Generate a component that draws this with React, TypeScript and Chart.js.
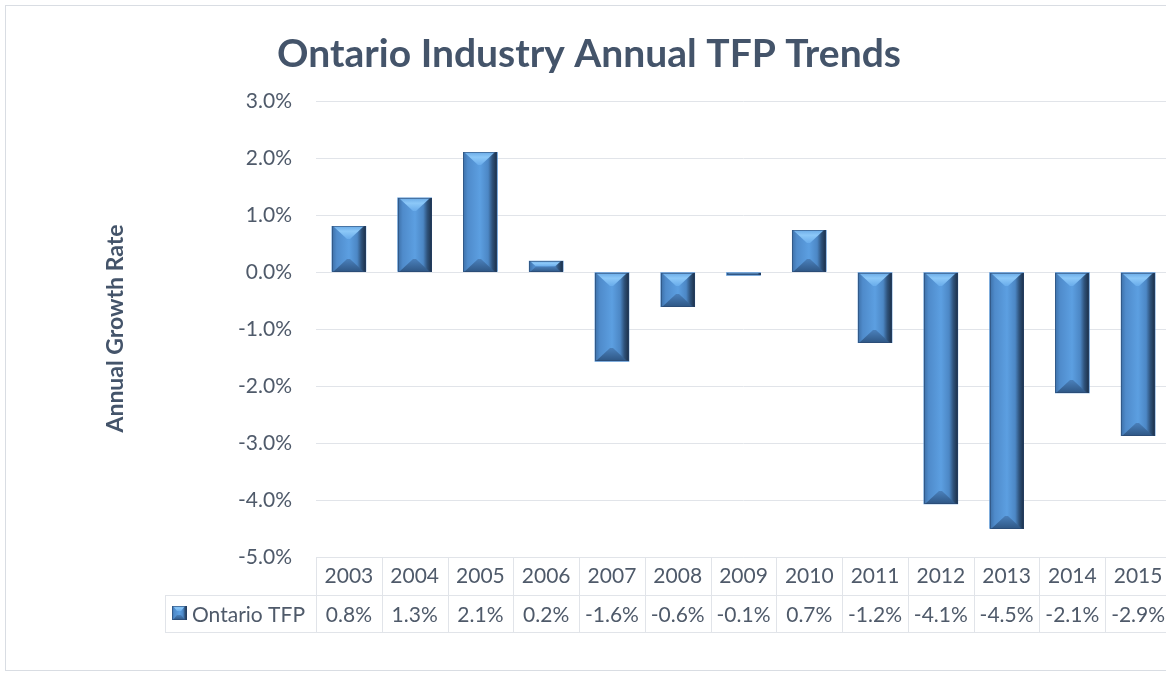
import React, { useEffect, useRef } from "react";
import { Chart, registerables } from "chart.js";

Chart.register(...registerables);

// ---- data ----
const years: string[] = ["2003", "2004", "2005", "2006", "2007", "2008", "2009", "2010", "2011", "2012", "2013", "2014", "2015"];
const tfpValues: number[] = [0.8, 1.3, 2.1, 0.19, -1.57, -0.61, -0.06, 0.73, -1.24, -4.07, -4.5, -2.12, -2.87];
const seriesName = "Ontario TFP";
const chartTitle = "Ontario Industry Annual TFP Trends";
const yAxisTitle = "Annual Growth Rate";
const yMin = -5;
const yMax = 3;
const yStep = 1;

const FONT = "Lato, 'Open Sans', sans-serif";
const TEXT = "#4f5a6a";
const TITLE_COLOR = "#44546a";
const GRID = "#e1e4e9";

function drawBevelBar(ctx: CanvasRenderingContext2D, L: number, T: number, R: number, B: number, sxMax: number, syMax: number) {
  const w = R - L;
  const h = B - T;
  if (w <= 0 || h <= 0) return;
  const g = ctx.createLinearGradient(L, 0, R, 0);
  g.addColorStop(0, "#3d70a8");
  g.addColorStop(0.14, "#4f8bcb");
  g.addColorStop(0.5, "#5c9fe1");
  g.addColorStop(0.74, "#4c87c5");
  g.addColorStop(0.86, "#2f537c");
  g.addColorStop(1, "#1b2e46");
  ctx.fillStyle = g;
  ctx.fillRect(L, T, w, h);
  const sy = Math.min(syMax, h / 2);
  const sx = Math.min(sxMax, w / 2 - 2) * (sy / syMax);
  // top face
  const gt = ctx.createLinearGradient(0, T, 0, T + sy);
  gt.addColorStop(0, "#6aaae6");
  gt.addColorStop(0.4, "#8cc8f8");
  gt.addColorStop(1, "#69aceb");
  ctx.fillStyle = gt;
  ctx.beginPath();
  ctx.moveTo(L + 1, T);
  ctx.lineTo(R - 2, T);
  ctx.lineTo(R - 2 - sx, T + sy);
  ctx.lineTo(L + 1 + sx, T + sy);
  ctx.closePath();
  ctx.fill();
  // bottom face
  const gb = ctx.createLinearGradient(0, B - sy, 0, B);
  gb.addColorStop(0, "#4a80bb");
  gb.addColorStop(1, "#2e5684");
  ctx.fillStyle = gb;
  ctx.beginPath();
  ctx.moveTo(L + 1, B);
  ctx.lineTo(R - 2, B);
  ctx.lineTo(R - 2 - sx, B - sy);
  ctx.lineTo(L + 1 + sx, B - sy);
  ctx.closePath();
  ctx.fill();
  ctx.strokeStyle = "rgba(40,70,110,0.55)";
  ctx.lineWidth = 1;
  ctx.strokeRect(L + 0.5, T + 0.5, w - 1, h - 1);
}

const bevelPlugin = {
  id: "bevelBars",
  afterDatasetsDraw(chart: any) {
    const ctx: CanvasRenderingContext2D = chart.ctx;
    const meta = chart.getDatasetMeta(0);
    ctx.save();
    meta.data.forEach((el: any) => {
      const p = el.getProps(["x", "y", "base", "width"], true);
      const L = Math.round(p.x - p.width / 2);
      const R = Math.round(p.x + p.width / 2);
      const T = Math.round(Math.min(p.y, p.base));
      const B = Math.round(Math.max(p.y, p.base));
      drawBevelBar(ctx, L, T, R, B, 14, 13);
    });
    ctx.restore();
  },
};

const decorPlugin = {
  id: "decor",
  afterDraw(chart: any) {
    const ctx: CanvasRenderingContext2D = chart.ctx;
    const xs = chart.scales.x;
    const ys = chart.scales.y;
    const n = years.length;
    const catW = (xs.right - xs.left) / n;
    const top = ys.bottom;
    const rowH = 38;
    const mid = top + rowH;
    const bot = mid + 37;
    const legendLeft = 165;
    ctx.save();
    // outer border
    ctx.strokeStyle = "#d9dde3";
    ctx.lineWidth = 1;
    ctx.strokeRect(5.5, 5.5, chart.width - 5, 665);

    // title
    ctx.fillStyle = TITLE_COLOR;
    ctx.font = `bold 39px ${FONT}`;
    ctx.textAlign = "center";
    ctx.textBaseline = "alphabetic";
    ctx.fillText(chartTitle, 589, 67);

    // y axis title
    ctx.save();
    ctx.translate(123, 328.5);
    ctx.rotate(-Math.PI / 2);
    ctx.font = `bold 23px ${FONT}`;
    ctx.fillStyle = TITLE_COLOR;
    ctx.textAlign = "center";
    ctx.textBaseline = "alphabetic";
    ctx.fillText(yAxisTitle, 0, 0);
    ctx.restore();

    // data table lines
    ctx.strokeStyle = GRID;
    ctx.lineWidth = 1;
    ctx.beginPath();
    ctx.moveTo(xs.left, Math.round(top) + 0.5);
    ctx.lineTo(xs.right, Math.round(top) + 0.5);
    ctx.moveTo(legendLeft, Math.round(mid) + 0.5);
    ctx.lineTo(xs.right, Math.round(mid) + 0.5);
    ctx.moveTo(legendLeft, Math.round(bot) + 0.5);
    ctx.lineTo(xs.right, Math.round(bot) + 0.5);
    for (let i = 0; i <= n; i++) {
      const x = Math.round(xs.left + i * catW) + 0.5;
      ctx.moveTo(x, top);
      ctx.lineTo(x, bot);
    }
    ctx.moveTo(legendLeft + 0.5, mid);
    ctx.lineTo(legendLeft + 0.5, bot);
    ctx.stroke();

    // table text
    ctx.fillStyle = TEXT;
    ctx.font = `21px ${FONT}`;
    ctx.textAlign = "center";
    ctx.textBaseline = "alphabetic";
    for (let i = 0; i < n; i++) {
      const cx = xs.getPixelForValue(i);
      ctx.fillText(years[i], cx, top + 26);
      ctx.fillText(tfpValues[i].toFixed(1) + "%", cx, mid + 27);
    }
    // legend key
    drawBevelBar(ctx, 172, 606, 187, 620, 4, 5);
    ctx.fillStyle = TEXT;
    ctx.textAlign = "left";
    ctx.fillText(seriesName, 192, mid + 27);
    ctx.restore();
  },
};

export default function App() {
  const ref = useRef<HTMLCanvasElement | null>(null);
  useEffect(() => {
    if (!ref.current) return;
    const chart = new Chart(ref.current, {
      type: "bar",
      data: {
        labels: years,
        datasets: [
          {
            label: seriesName,
            data: tfpValues,
            backgroundColor: "#5592d2",
            barThickness: 34,
          },
        ],
      },
      options: {
        animation: false,
        responsive: true,
        maintainAspectRatio: false,
        layout: { padding: { left: 0, top: 101, right: 5, bottom: 116 } },
        plugins: {
          legend: { display: false },
          title: { display: false },
          tooltip: { enabled: false },
        },
        scales: {
          x: { display: false },
          y: {
            min: yMin,
            max: yMax,
            afterFit: (s: any) => {
              s.width = 316;
            },
            border: { display: false },
            grid: { color: GRID, drawTicks: false, lineWidth: 1 },
            ticks: {
              stepSize: yStep,
              padding: 24,
              color: TEXT,
              font: { family: FONT, size: 21 },
              callback: (v: any) => Number(v).toFixed(1) + "%",
            },
          },
        },
      },
      plugins: [bevelPlugin, decorPlugin],
    });
    return () => chart.destroy();
  }, []);
  return (
    <div style={{ position: "fixed", left: 0, top: 0, width: 1166, height: 673, overflow: "hidden", background: "#fff" }}>
      <div style={{ position: "relative", width: 1176, height: 673 }}>
        <canvas ref={ref} />
      </div>
    </div>
  );
}
